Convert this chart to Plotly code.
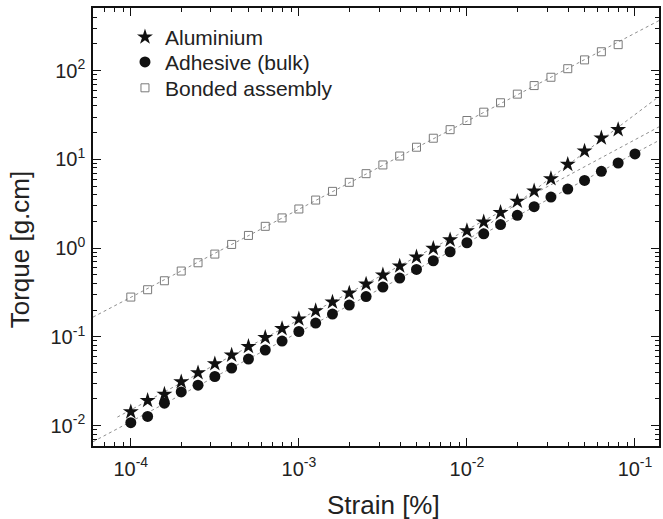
import numpy as np
import plotly.graph_objects as go

# ---- data ----
strain_exp = [-4.0 + 0.1 * i for i in range(31)]  # log10 strain positions, 10 pts/decade
strain = [round(10 ** e, 8) for e in strain_exp]

torque_aluminium = [0.0143, 0.0192, 0.0226, 0.0312, 0.0394, 0.0498, 0.0624, 0.0780, 0.0984, 0.124,
                    0.159, 0.197, 0.247, 0.312, 0.394, 0.498, 0.628, 0.794, 0.993, 1.24,
                    1.57, 1.97, 2.52, 3.37, 4.40, 6.05, 8.79, 12.4, 17.4, 21.6]
torque_adhesive = [0.0108, 0.0127, 0.0179, 0.0240, 0.0286, 0.0358, 0.0445, 0.0562, 0.0710, 0.0897,
                   0.115, 0.143, 0.181, 0.228, 0.285, 0.364, 0.460, 0.575, 0.721, 0.910,
                   1.15, 1.45, 1.84, 2.34, 2.93, 3.76, 4.63, 5.79, 7.33, 9.10, 11.5]
torque_bonded = [0.281, 0.340, 0.429, 0.552, 0.684, 0.857, 1.10, 1.39, 1.76, 2.19,
                 2.76, 3.48, 4.36, 5.51, 6.90, 8.65, 10.9, 13.7, 17.3, 21.6,
                 27.4, 34.0, 43.4, 54.3, 67.8, 84.1, 105, 132, 163, 196]

series_names = ["Aluminium", "Adhesive (bulk)", "Bonded assembly"]

x_tick_vals = [1e-4, 1e-3, 1e-2, 1e-1]
x_tick_text = ["10<sup>-4</sup>", "10<sup>-3</sup>", "10<sup>-2</sup>", "10<sup>-1</sup>"]
y_tick_vals = [1e-2, 1e-1, 1e0, 1e1, 1e2]
y_tick_text = ["10<sup>-2</sup>", "10<sup>-1</sup>", "10<sup>0</sup>", "10<sup>1</sup>", "10<sup>2</sup>"]

x_title = "Strain [%]"
y_title = "Torque [g.cm]"

x_range_log = [-4.225, -0.857]
y_range_log = [-2.229, 2.705]

# ---- power-law fits (in log space) from the data ----
def fit_line(xs, ys, x_from, x_to):
    lx = np.log10(xs)
    ly = np.log10(ys)
    n, c = np.polyfit(lx, ly, 1)
    xl = np.array([x_from, x_to])
    return 10 ** xl, 10 ** (n * xl + c)

fits = [
    fit_line(strain[:30], torque_bonded, x_range_log[0], x_range_log[1]),
    fit_line(strain[:19], torque_aluminium[:19], -4.08, x_range_log[1]),
    fit_line(strain[24:30], torque_aluminium[24:30], -2.0, x_range_log[1]),
    fit_line(strain[:31], torque_adhesive, x_range_log[0], x_range_log[1]),
]

fig = go.Figure()
for fx, fy in fits:
    fig.add_trace(go.Scatter(x=fx, y=fy, mode="lines", showlegend=False, hoverinfo="skip",
                             line=dict(color="#8f8f8f", width=1, dash="3px,3px")))

fig.add_trace(go.Scatter(x=strain[:30], y=torque_aluminium, mode="markers", name=series_names[0],
                         legend="legend",
                         marker=dict(symbol="star", size=12, color="#111111", line=dict(width=0))))
fig.add_trace(go.Scatter(x=strain[:31], y=torque_adhesive, mode="markers", name=series_names[1],
                         legend="legend2",
                         marker=dict(symbol="circle", size=11, color="#111111", line=dict(width=0))))
fig.add_trace(go.Scatter(x=strain[:30], y=torque_bonded, mode="markers", name=series_names[2],
                         legend="legend3",
                         marker=dict(symbol="square-open", size=8, color="#7a7a7a", line=dict(width=1))))

font_family = "Liberation Sans, Arial, sans-serif"
text_color = "#222222"
axis_common = dict(type="log", showgrid=False, zeroline=False, showline=True, linecolor="#111111",
                   linewidth=1.6, mirror="allticks", ticks="inside", ticklen=8, tickwidth=1.3,
                   tickcolor="#111111", tickfont=dict(size=20, color=text_color, family=font_family),
                   minor=dict(ticks="inside", ticklen=4, tickwidth=1, tickcolor="#111111",
                              dtick="D1", showgrid=False))

fig.update_xaxes(**axis_common, range=x_range_log, tickvals=x_tick_vals, ticktext=x_tick_text,
                 ticklabelstandoff=4)
fig.update_yaxes(**axis_common, range=y_range_log, tickvals=y_tick_vals, ticktext=y_tick_text,
                 ticklabelstandoff=2)

legend_style = dict(x=0.0565, xanchor="left", yanchor="middle", bgcolor="rgba(0,0,0,0)",
                    font=dict(size=21, color=text_color, family=font_family), itemwidth=30)

fig.update_layout(
    width=663, height=519,
    margin=dict(l=93, r=2, t=8, b=73),
    paper_bgcolor="white", plot_bgcolor="white",
    font=dict(family=font_family, color=text_color),
    legend=dict(**legend_style, y=0.933),
    legend2=dict(**legend_style, y=0.876),
    legend3=dict(**legend_style, y=0.817),
    annotations=[
        dict(text=x_title, xref="paper", yref="paper", x=0.5136, y=-0.134, xanchor="center",
             yanchor="middle", showarrow=False,
             font=dict(size=26, color=text_color, family=font_family)),
        dict(text=y_title, xref="paper", yref="paper", x=-0.130, y=0.450, xanchor="center",
             yanchor="middle", textangle=-90, showarrow=False,
             font=dict(size=26, color=text_color, family=font_family)),
    ],
)

fig.write_html("out.html", config={"displayModeBar": False},
               post_script="document.body.style.margin='0';")
